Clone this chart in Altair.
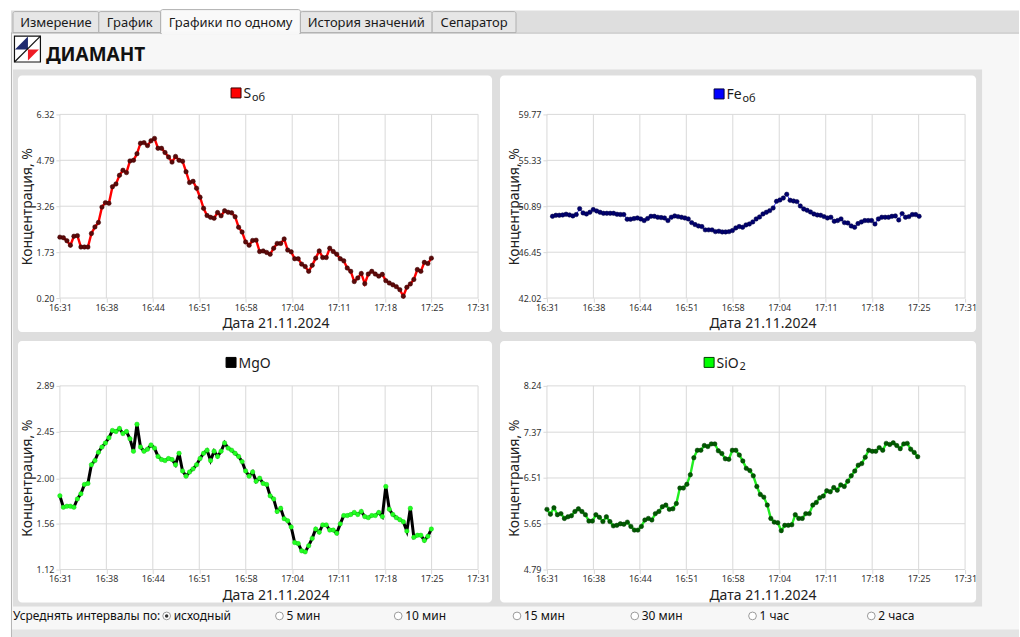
import altair as alt
import pandas as pd

# ---------------------------------------------------------------- time axis
TIME_LABELS = ["16:31", "16:38", "16:44", "16:51", "16:58",
               "17:04", "17:11", "17:18", "17:25", "17:31"]
WINDOW_MIN = 60  # the time axis always shows one hour
AXIS_TITLE_X = "Дата 21.11.2024"
AXIS_TITLE_Y = "Концентрация, %"

# ------------------------------------------------- analyses, % (every ~30 s)
S_VALUES = [2.23, 2.21, 2.11, 1.96, 2.26, 2.28, 1.90, 1.90, 1.90, 2.35,
            2.57, 2.72, 3.23, 3.38, 3.36, 3.91, 4.00, 4.29, 4.46, 4.38,
            4.77, 4.79, 5.01, 5.36, 5.38, 5.28, 5.44, 5.52, 5.19, 5.19,
            5.05, 4.90, 4.73, 4.92, 4.79, 4.76, 4.41, 4.05, 4.09, 3.86,
            3.56, 3.19, 2.95, 2.89, 2.86, 3.05, 2.94, 3.11, 3.06, 3.04,
            2.91, 2.56, 2.40, 2.07, 1.96, 2.12, 2.13, 1.75, 1.77, 1.72,
            1.66, 1.86, 2.02, 2.02, 2.17, 1.80, 1.74, 1.51, 1.51, 1.33,
            1.25, 1.09, 1.29, 1.53, 1.77, 1.55, 1.55, 1.86, 1.75, 1.66,
            1.51, 1.44, 1.20, 1.09, 0.75, 0.87, 1.02, 0.68, 1.00, 1.09,
            1.00, 0.93, 0.99, 0.78, 0.70, 0.64, 0.58, 0.48, 0.26, 0.56,
            0.67, 0.82, 1.15, 1.09, 1.39, 1.35, 1.53]

FE_VALUES = [49.92, 50.02, 50.02, 50.05, 50.12, 50.05, 49.96, 50.09, 50.66, 50.25,
             50.15, 50.31, 50.57, 50.44, 50.31, 50.21, 50.21, 50.21, 50.21, 50.12,
             50.09, 50.09, 49.64, 49.64, 49.70, 49.76, 49.67, 49.51, 49.70, 49.92,
             49.92, 49.83, 49.80, 49.76, 49.51, 49.83, 49.96, 49.89, 49.83, 49.76,
             49.67, 49.31, 49.12, 48.99, 48.93, 48.61, 48.61, 48.61, 48.44, 48.48,
             48.41, 48.41, 48.44, 48.54, 48.80, 48.93, 48.86, 49.09, 49.18, 49.38,
             49.67, 49.86, 50.15, 50.31, 50.47, 50.73, 51.37, 51.50, 51.69, 52.05,
             51.47, 51.40, 51.34, 50.92, 50.63, 50.50, 50.34, 50.15, 50.05, 50.02,
             49.89, 49.76, 49.83, 49.44, 49.51, 49.67, 49.31, 49.28, 48.99, 48.86,
             49.22, 49.38, 49.51, 49.51, 49.51, 49.18, 49.67, 49.83, 49.83, 49.83,
             49.92, 49.96, 49.57, 50.18, 49.83, 49.89, 50.09, 50.09, 49.92]

MGO_VALUES = [1.83, 1.72, 1.73, 1.73, 1.72, 1.80, 1.85, 1.94, 1.95, 2.13,
              2.17, 2.25, 2.30, 2.34, 2.39, 2.46, 2.45, 2.48, 2.43, 2.45,
              2.38, 2.26, 2.52, 2.30, 2.26, 2.28, 2.32, 2.29, 2.21, 2.18,
              2.17, 2.19, 2.18, 2.13, 2.24, 2.07, 2.02, 2.06, 2.09, 2.13,
              2.19, 2.24, 2.27, 2.17, 2.26, 2.21, 2.26, 2.34, 2.29, 2.27,
              2.24, 2.21, 2.16, 2.07, 2.02, 2.06, 1.97, 2.00, 1.95, 1.94,
              1.83, 1.80, 1.68, 1.71, 1.61, 1.59, 1.53, 1.38, 1.37, 1.30,
              1.29, 1.35, 1.42, 1.51, 1.48, 1.55, 1.55, 1.50, 1.50, 1.47,
              1.56, 1.64, 1.64, 1.65, 1.67, 1.65, 1.68, 1.63, 1.62, 1.64,
              1.64, 1.67, 1.63, 1.92, 1.70, 1.65, 1.62, 1.60, 1.58, 1.49,
              1.71, 1.43, 1.45, 1.45, 1.40, 1.44, 1.51]

SIO2_VALUES = [5.92, 5.83, 5.95, 5.82, 5.84, 5.75, 5.78, 5.80, 5.88, 5.93,
               5.88, 5.82, 5.70, 5.70, 5.82, 5.77, 5.69, 5.78, 5.69, 5.61,
               5.62, 5.65, 5.64, 5.68, 5.60, 5.53, 5.53, 5.60, 5.72, 5.75,
               5.72, 5.84, 5.88, 5.97, 6.00, 5.92, 5.93, 6.03, 6.32, 6.32,
               6.39, 6.57, 6.89, 7.03, 7.03, 7.12, 7.10, 7.15, 7.15, 7.02,
               6.97, 6.87, 6.86, 7.03, 7.03, 6.94, 6.83, 6.69, 6.65, 6.55,
               6.35, 6.20, 6.15, 6.00, 5.75, 5.68, 5.67, 5.52, 5.62, 5.62,
               5.63, 5.82, 5.75, 5.75, 5.84, 5.84, 6.00, 6.05, 6.14, 6.17,
               6.27, 6.25, 6.33, 6.28, 6.38, 6.35, 6.45, 6.55, 6.64, 6.75,
               6.78, 6.90, 7.03, 7.01, 7.01, 7.08, 7.03, 7.16, 7.14, 7.17,
               7.12, 7.06, 7.15, 7.16, 7.05, 6.99, 6.91]

# first / last analysis of each series, minutes after 16:31
S_SPAN = (0.0, 53.3)
FE_SPAN = (0.8, 53.4)
MGO_SPAN = (0.0, 53.3)
SIO2_SPAN = (0.0, 53.2)

# y-axis ticks of every panel
S_TICKS = [0.20, 1.73, 3.26, 4.79, 6.32]
FE_TICKS = [42.02, 46.45, 50.89, 55.33, 59.77]
MGO_TICKS = [1.12, 1.56, 2.00, 2.45, 2.89]
SIO2_TICKS = [4.79, 5.65, 6.51, 7.37, 8.24]

# window chrome texts
TABS = ["Измерение", "График", "Графики по одному", "История значений", "Сепаратор"]
ACTIVE_TAB = 2
LOGO_TEXT = "ДИАМАНТ"
AVG_CAPTION = "Усреднять интервалы по:"
AVG_OPTIONS = ["исходный", "5 мин", "10 мин", "15 мин", "30 мин", "1 час", "2 часа"]

# ------------------------------------------------------------------ styling
FONT = "Noto Sans"
GRID = "#d9d9d9"
W, H = 419, 184            # plot area of one panel
COL_GAP, ROW_GAP = 69, 88  # distance between plot areas
OX, OY = 59, 113           # page position of the first plot area

ONE = pd.DataFrame({"k": [0]})
X_TICKS = [i * WINDOW_MIN / (len(TIME_LABELS) - 1) for i in range(len(TIME_LABELS))]
LABEL_EXPR = "[" + ",".join("'%s'" % s for s in TIME_LABELS) + "]" \
             + "[round(datum.value * %d / %d)]" % (len(TIME_LABELS) - 1, WINDOW_MIN)


def box(x0, y0, x1, y1, **kw):
    return alt.Chart(ONE).mark_rect(**kw).encode(
        x=alt.value(x0), x2=alt.value(x1), y=alt.value(y0), y2=alt.value(y1))


def seg(x0, y0, x1, y1, **kw):
    return alt.Chart(ONE).mark_rule(**kw).encode(
        x=alt.value(x0), x2=alt.value(x1), y=alt.value(y0), y2=alt.value(y1))


def text(x, y, s, **kw):
    kw.setdefault("font", FONT)
    return alt.Chart(ONE).mark_text(**kw).encode(
        x=alt.value(x), y=alt.value(y), text=alt.value(s))


def sym(x, y, shape, size, **kw):
    return alt.Chart(ONE).mark_point(shape=shape, size=size, **kw).encode(
        x=alt.value(x), y=alt.value(y))


def page_chrome():
    """Window around the charts, in page pixels shifted to the first panel."""
    def B(x0, y0, x1, y1, **kw):
        return box(x0 - OX, y0 - OY, x1 - OX, y1 - OY, **kw)

    def L(x0, y0, x1, y1, **kw):
        return seg(x0 - OX, y0 - OY, x1 - OX, y1 - OY, **kw)

    def T(x, y, s, **kw):
        return text(x - OX, y - OY, s, **kw)

    def P(x, y, shape, size, **kw):
        return sym(x - OX, y - OY, shape, size, **kw)

    layers = [
        B(0, 0, 1020, 637, fill="#ffffff"),
        B(10, 31, 1020, 637, fill="#f7f7f7"),
        B(10, 9, 1020, 31, fill="#dedede"),
        L(10, 31.5, 1020, 31.5, color="#b8b8b8", strokeWidth=1),
        L(10.5, 31, 10.5, 637, color="#b4b4b4", strokeWidth=1),
    ]
    tab_edges = [12, 98, 160, 300, 432, 516]
    for i, name in enumerate(TABS):
        x0, x1 = tab_edges[i], tab_edges[i + 1]
        if i == ACTIVE_TAB:
            layers.append(B(x0, 8, x1, 32, fill="#f9f9f9", stroke="#b0b0b0",
                            strokeWidth=1, cornerRadiusTopLeft=2, cornerRadiusTopRight=2))
            layers.append(B(x0 + 1, 30, x1 - 1, 33, fill="#f7f7f7"))
        else:
            layers.append(B(x0, 10, x1, 31, fill="#e6e6e6", stroke="#b0b0b0",
                            strokeWidth=1, cornerRadiusTopLeft=2, cornerRadiusTopRight=2))
        layers.append(T((x0 + x1) / 2, 25, name, fontSize=13, color="#1a1a1a",
                        align="center", baseline="alphabetic"))

    # logo: split square and the company name
    layers += [
        B(13.5, 34.5, 39.5, 60.5, fill="#ffffff", stroke="#111111", strokeWidth=1.2),
        P(20.5, 41.5, "M-1,1L1,-1L1,1Z", 169, filled=True, color="#1f2a6e", opacity=1),
        P(32.5, 53.5, "M-1,-1L1,-1L-1,1Z", 121, filled=True, color="#ee1c25", opacity=1),
        L(13.5, 60.5, 39.5, 34.5, color="#111111", strokeWidth=1.2),
        T(45, 59, LOGO_TEXT, fontSize=19, fontWeight="bold", color="#111111",
          align="left", baseline="alphabetic"),
    ]

    # grey frame holding the four cards, bottom strip
    layers += [
        B(12, 68, 983, 606, fill="#dedede"),
        B(11, 629, 1020, 637, fill="#e4e4e4"),
    ]

    # averaging selector
    layers.append(T(12, 620, AVG_CAPTION, fontSize=12, color="#111111",
                    align="left", baseline="alphabetic"))
    circle_x = [166, 279, 398, 517, 635, 753, 872]
    for i, opt in enumerate(AVG_OPTIONS):
        cx = circle_x[i]
        layers.append(P(cx, 615.5, "circle", 60, filled=True, fill="#ffffff",
                        stroke="#9a9a9a", strokeWidth=1, opacity=1))
        if i == 0:
            layers.append(P(cx, 615.5, "circle", 12, filled=True, color="#333333", opacity=1))
        layers.append(T(cx + 7, 620, opt, fontSize=12, color="#111111",
                        align="left", baseline="alphabetic"))
    return layers


# width of the main part of each panel title, where its subscript starts
TITLE_W = {"S": 8.5, "Fe": 16, "MgO": 32, "SiO": 23}


def panel(values, span, ticks, card, key, name, sub, key_fill, key_stroke,
          line_color, line_width, dot_fill, dot_stroke, chrome=None):
    first, last = span
    n = len(values)
    times = [first + i * (last - first) / (n - 1) for i in range(n)]
    df = pd.DataFrame({"t": times, "v": values})

    xscale = alt.Scale(domain=[0, WINDOW_MIN], nice=False, zero=False)
    yscale = alt.Scale(domain=[ticks[0], ticks[-1]], nice=False, zero=False)
    xaxis = alt.Axis(values=X_TICKS, labelExpr=LABEL_EXPR, grid=False, domain=False,
                     ticks=True, tickColor=GRID, tickSize=4, labelFont=FONT,
                     labelFontSize=9, labelColor="#333333", labelPadding=1,
                     labelFlush=False, labelOverlap=False, title=AXIS_TITLE_X,
                     titleFont=FONT, titleFontSize=14, titleFontWeight="normal",
                     titleColor="#222222", titleX=216, titleY=30, titleAlign="center",
                     titleBaseline="alphabetic", zindex=1)
    yaxis = alt.Axis(values=ticks, format=".2f", grid=False, domain=False,
                     ticks=True, tickColor=GRID, tickSize=4, labelFont=FONT,
                     labelFontSize=9, labelColor="#333333", labelPadding=2,
                     labelFlush=False, labelOverlap=False, title=AXIS_TITLE_Y,
                     titleFont=FONT, titleFontSize=14, titleFontWeight="normal",
                     titleColor="#222222", titleX=-28, titleY=H / 2, titleAngle=270,
                     titleAlign="center", titleBaseline="alphabetic", zindex=1)
    X = alt.X("t:Q", scale=xscale, axis=xaxis)
    Y = alt.Y("v:Q", scale=yscale, axis=yaxis)

    cx0, cy0, cx1, cy1 = card
    layers = list(chrome or [])
    layers.append(box(cx0, cy0, cx1, cy1, fill="#ffffff", cornerRadius=4))
    layers.append(alt.Chart(pd.DataFrame({"t": X_TICKS})).mark_rule(
        color=GRID, strokeWidth=1).encode(x=X, y=alt.value(0), y2=alt.value(H)))
    layers.append(alt.Chart(pd.DataFrame({"v": ticks})).mark_rule(
        color=GRID, strokeWidth=1).encode(y=Y, x=alt.value(0), x2=alt.value(W)))
    layers.append(alt.Chart(df).mark_line(color=line_color, strokeWidth=line_width)
                  .encode(x=X, y=Y))
    layers.append(alt.Chart(df).mark_circle(size=20, color=dot_fill, opacity=1,
                                            stroke=dot_stroke, strokeWidth=0.5)
                  .encode(x=X, y=Y))

    kx, ky = key
    layers.append(box(kx + 0.5, ky + 0.5, kx + 10.5, ky + 10.5, fill=key_fill,
                      stroke=key_stroke, strokeWidth=1))
    layers.append(text(kx + 13, ky + 11, name, fontSize=14, color="#1a1a1a",
                       align="left", baseline="alphabetic"))
    if sub:
        layers.append(text(kx + 13 + TITLE_W[name], ky + 13.5, sub, fontSize=11,
                           color="#1a1a1a", align="left", baseline="alphabetic"))
    return alt.layer(*layers).properties(width=W, height=H)


p_s = panel(S_VALUES, S_SPAN, S_TICKS, (-42, -39, 433, 218), (171, -27), "S", "об",
            "#ff0000", "#3a0000", "#ff0000", 2.4, "#5c0a0a", "#3a0000",
            chrome=page_chrome())
p_fe = panel(FE_VALUES, FE_SPAN, FE_TICKS, (-47, -39, 430, 218), (167, -26), "Fe", "об",
             "#0000ff", "#000040", "#3a3aff", 1, "#00006e", "#000040")
p_mgo = panel(MGO_VALUES, MGO_SPAN, MGO_TICKS, (-42, -45, 433, 217), (166, -29), "MgO", "",
              "#000000", "#000000", "#000000", 3, "#22ff22", "#19d919")
p_sio2 = panel(SIO2_VALUES, SIO2_SPAN, SIO2_TICKS, (-47, -45, 430, 217), (157, -29), "SiO", "2",
               "#00ff00", "#004000", "#22ee22", 2.4, "#005a00", "#003a00")

chart = alt.concat(
    p_s, p_fe, p_mgo, p_sio2,
    columns=2,
    spacing={"row": ROW_GAP, "column": COL_GAP},
    bounds="flush",
).properties(
    padding=0,
    background="#ffffff",
).configure_view(
    stroke="transparent",
)

chart.save("out.html", embed_options={"renderer": "svg", "actions": False})
